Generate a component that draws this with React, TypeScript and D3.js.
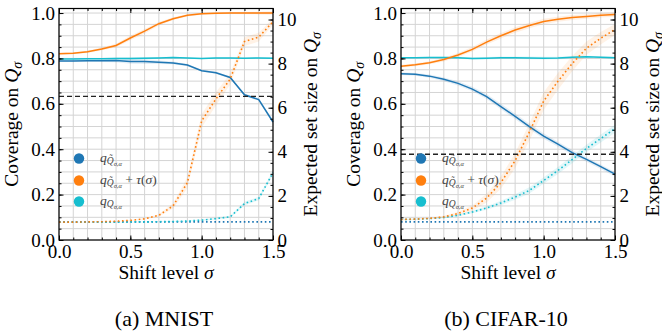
import React, { useRef, useEffect } from "react";
import * as d3 from "d3";

// shift levels on the x axis
const sigma = [0, 0.1, 0.2, 0.3, 0.4, 0.5, 0.6, 0.7, 0.8, 0.9, 1.0, 1.1, 1.2, 1.3, 1.4, 1.5];

const xTicks = [0, 0.5, 1.0, 1.5];
const leftTicks = [0, 0.2, 0.4, 0.6, 0.8, 1.0];
const rightTicks = [0, 2, 4, 6, 8, 10];

// MNIST: coverage (left axis)
const mnistCovBase = [0.789, 0.789, 0.79, 0.79, 0.791, 0.787, 0.786, 0.783, 0.78, 0.771, 0.746, 0.737, 0.716, 0.64, 0.619, 0.52];
const mnistCovTau = [0.821, 0.823, 0.829, 0.842, 0.857, 0.89, 0.92, 0.953, 0.975, 0.99, 0.997, 0.999, 1.0, 1.0, 1.0, 1.0];
const mnistCovQ = [0.798, 0.798, 0.799, 0.799, 0.8, 0.8, 0.801, 0.802, 0.804, 0.802, 0.8, 0.802, 0.802, 0.801, 0.802, 0.801];
const mnistCovStd = [0.004, 0.004, 0.005, 0.006, 0.008, 0.01, 0.01, 0.008, 0.006, 0.005, 0.004, 0.004, 0.004, 0.005, 0.006, 0.008];
// MNIST: expected set size (right axis)
const mnistSizeBase = [0.82, 0.82, 0.82, 0.82, 0.82, 0.82, 0.82, 0.82, 0.82, 0.82, 0.82, 0.82, 0.82, 0.82, 0.82, 0.82];
const mnistSizeTau = [0.81, 0.81, 0.82, 0.83, 0.85, 0.89, 0.96, 1.12, 1.55, 2.6, 5.4, 6.4, 7.3, 9.0, 9.2, 9.9];
const mnistSizeTauStd = [0.01, 0.01, 0.01, 0.01, 0.01, 0.02, 0.03, 0.05, 0.12, 0.25, 0.3, 0.3, 0.25, 0.2, 0.2, 0.15];
const mnistSizeQ = [0.81, 0.81, 0.81, 0.81, 0.81, 0.82, 0.82, 0.83, 0.84, 0.86, 0.9, 0.97, 1.05, 1.65, 1.88, 3.05];
const mnistSizeQStd = [0.01, 0.01, 0.01, 0.01, 0.01, 0.01, 0.01, 0.01, 0.02, 0.02, 0.03, 0.04, 0.05, 0.08, 0.08, 0.1];
const mnistTarget = 0.633;

// CIFAR-10
const cifarCovBase = [0.733, 0.73, 0.722, 0.708, 0.69, 0.665, 0.632, 0.588, 0.545, 0.5, 0.458, 0.422, 0.385, 0.355, 0.323, 0.29];
const cifarCovTau = [0.766, 0.772, 0.781, 0.795, 0.815, 0.84, 0.872, 0.9, 0.925, 0.945, 0.963, 0.973, 0.98, 0.985, 0.99, 0.994];
const cifarCovQ = [0.803, 0.803, 0.804, 0.804, 0.803, 0.8, 0.801, 0.803, 0.803, 0.802, 0.801, 0.802, 0.805, 0.807, 0.805, 0.803];
const cifarCovStd = [0.006, 0.006, 0.007, 0.008, 0.009, 0.01, 0.011, 0.012, 0.012, 0.012, 0.012, 0.011, 0.011, 0.01, 0.01, 0.01];
const cifarSizeBase = [0.82, 0.82, 0.82, 0.82, 0.82, 0.82, 0.82, 0.82, 0.82, 0.82, 0.82, 0.82, 0.82, 0.82, 0.82, 0.82];
const cifarSizeTau = [0.93, 0.95, 0.98, 1.05, 1.2, 1.45, 1.9, 2.6, 3.6, 4.9, 6.3, 7.2, 8.0, 8.7, 9.15, 9.55];
const cifarSizeTauStd = [0.02, 0.02, 0.03, 0.05, 0.08, 0.12, 0.2, 0.28, 0.35, 0.4, 0.4, 0.38, 0.35, 0.3, 0.28, 0.25];
const cifarSizeQ = [0.93, 0.94, 0.97, 1.02, 1.12, 1.27, 1.45, 1.68, 1.95, 2.25, 2.7, 3.15, 3.65, 4.15, 4.6, 5.05];
const cifarSizeQStd = [0.02, 0.02, 0.02, 0.03, 0.04, 0.06, 0.08, 0.1, 0.12, 0.14, 0.15, 0.16, 0.17, 0.17, 0.18, 0.18];
const cifarTarget = 0.378;

const BLUE = "#1f77b4";
const ORANGE = "#ff7f0e";
const CYAN = "#17becf";
const FONT = "Liberation Serif, DejaVu Serif, Times New Roman, serif";

interface PanelSpec {
  left: number;
  caption: string;
  covBase: number[];
  covTau: number[];
  covQ: number[];
  covStd: number[];
  sizeBase: number[];
  sizeTau: number[];
  sizeTauStd: number[];
  sizeQ: number[];
  sizeQStd: number[];
  target: number;
}

const panels: PanelSpec[] = [
  {
    left: 59, caption: "(a) MNIST",
    covBase: mnistCovBase, covTau: mnistCovTau, covQ: mnistCovQ, covStd: mnistCovStd,
    sizeBase: mnistSizeBase, sizeTau: mnistSizeTau, sizeTauStd: mnistSizeTauStd,
    sizeQ: mnistSizeQ, sizeQStd: mnistSizeQStd, target: mnistTarget,
  },
  {
    left: 401, caption: "(b) CIFAR-10",
    covBase: cifarCovBase, covTau: cifarCovTau, covQ: cifarCovQ, covStd: cifarCovStd,
    sizeBase: cifarSizeBase, sizeTau: cifarSizeTau, sizeTauStd: cifarSizeTauStd,
    sizeQ: cifarSizeQ, sizeQStd: cifarSizeQStd, target: cifarTarget,
  },
];

function drawPanel(svg: d3.Selection<SVGSVGElement, unknown, null, undefined>, p: PanelSpec) {
  const W = 214;
  const top = 8.5;
  const bottom = 240;
  const right = p.left + W;

  const x = d3.scaleLinear().domain([0, 1.5]).range([p.left, right]);
  const yL = d3.scaleLinear().domain([0, 1.02]).range([bottom, top]);
  const yR = d3.scaleLinear().domain([0, 10.5]).range([bottom, top]);

  const g = svg.append("g");

  // grid (every minor tick)
  const xMinor = d3.range(0, 16).map(i => i / 10);
  const yMinor = d3.range(0, 21).map(i => i * 0.05);
  g.append("g").selectAll("line").data(xMinor).join("line")
    .attr("x1", d => x(d)).attr("x2", d => x(d))
    .attr("y1", top).attr("y2", bottom)
    .attr("stroke", "#d4d4d4").attr("stroke-width", 1);
  g.append("g").selectAll("line").data(yMinor).join("line")
    .attr("x1", p.left).attr("x2", right)
    .attr("y1", d => yL(d)).attr("y2", d => yL(d))
    .attr("stroke", "#d4d4d4").attr("stroke-width", 1);

  // shaded bands
  const band = (vals: number[], std: number[], y: d3.ScaleLinear<number, number>, color: string, op: number) => {
    const area = d3.area<number>()
      .x((_, i) => x(sigma[i]))
      .y0((d, i) => y(d - std[i]))
      .y1((d, i) => y(d + std[i]));
    g.append("path").datum(vals)
      .attr("fill", color).attr("opacity", op).attr("d", area);
  };
  band(p.covBase, p.covStd, yL, BLUE, 0.12);
  band(p.covTau, p.covStd, yL, ORANGE, 0.12);
  band(p.covQ, p.covStd.map(s => s * 0.5), yL, CYAN, 0.12);
  band(p.sizeTau, p.sizeTauStd, yR, ORANGE, 0.1);
  band(p.sizeQ, p.sizeQStd, yR, CYAN, 0.12);

  const line = (vals: number[], y: d3.ScaleLinear<number, number>, color: string, dotted: boolean) => {
    const gen = d3.line<number>().x((_, i) => x(sigma[i])).y(d => y(d));
    g.append("path").datum(vals)
      .attr("fill", "none").attr("stroke", color)
      .attr("stroke-width", dotted ? 1.6 : 1.5)
      .attr("stroke-dasharray", dotted ? "1.6,2.6" : null)
      .attr("d", gen);
  };
  line(p.covQ, yL, CYAN, false);
  line(p.covBase, yL, BLUE, false);
  line(p.covTau, yL, ORANGE, false);
  line(p.sizeBase, yR, BLUE, true);
  line(p.sizeQ, yR, CYAN, true);
  line(p.sizeTau, yR, ORANGE, true);

  // target coverage
  g.append("line")
    .attr("x1", p.left).attr("x2", right)
    .attr("y1", yL(p.target)).attr("y2", yL(p.target))
    .attr("stroke", "#222").attr("stroke-width", 1.4)
    .attr("stroke-dasharray", "5,3");

  // legend
  const legendRows = [BLUE, ORANGE, CYAN];
  const legendY = [158.5, 180.5, 201.5];
  legendRows.forEach((color, i) => {
    g.append("circle")
      .attr("cx", p.left + 20).attr("cy", legendY[i]).attr("r", 5.2)
      .attr("fill", color);
    const t = g.append("text")
      .attr("x", p.left + 41).attr("y", legendY[i] + 3)
      .attr("fill", "#444").attr("font-family", FONT).attr("font-size", 13.5);
    t.append("tspan").attr("font-style", "italic").text("q");
    t.append("tspan").attr("dy", 2.5).attr("font-size", 9.5).attr("font-style", "italic")
      .text(i === 2 ? "Q" : "Q\u0303");
    t.append("tspan").attr("dy", 1.8).attr("font-size", 6.5).attr("font-style", "italic").text("σ,α");
    if (i === 1) {
      t.append("tspan").attr("dy", -4.3).text(" + ");
      t.append("tspan").attr("font-style", "italic").text("τ");
      t.append("tspan").text("(");
      t.append("tspan").attr("font-style", "italic").text("σ");
      t.append("tspan").text(")");
    }
  });

  // axes
  const styleAxis = (ax: d3.Selection<SVGGElement, unknown, null, undefined>) => {
    ax.select(".domain").remove();
    ax.attr("font-family", FONT).attr("font-size", 19);
    ax.selectAll("line").attr("stroke", "#000").attr("stroke-width", 1);
    ax.selectAll("text").attr("fill", "#000");
  };
  const fmt1 = d3.format(".1f");

  const bottomAx = g.append("g").attr("transform", `translate(0,${bottom})`)
    .call(d3.axisBottom(x).tickValues(xTicks).tickSize(-4.5).tickPadding(5).tickFormat(d => fmt1(+d)));
  styleAxis(bottomAx);
  const bottomMinor = g.append("g").attr("transform", `translate(0,${bottom})`)
    .call(d3.axisBottom(x).tickValues(xMinor).tickSize(-2.5).tickFormat(() => ""));
  styleAxis(bottomMinor);
  const topAx = g.append("g").attr("transform", `translate(0,${top})`)
    .call(d3.axisTop(x).tickValues(xTicks).tickSize(-4.5).tickFormat(() => ""));
  styleAxis(topAx);
  const topMinor = g.append("g").attr("transform", `translate(0,${top})`)
    .call(d3.axisTop(x).tickValues(xMinor).tickSize(-2.5).tickFormat(() => ""));
  styleAxis(topMinor);

  const leftAx = g.append("g").attr("transform", `translate(${p.left},0)`)
    .call(d3.axisLeft(yL).tickValues(leftTicks).tickSize(-4.5).tickPadding(4).tickFormat(d => fmt1(+d)));
  styleAxis(leftAx);
  const leftMinor = g.append("g").attr("transform", `translate(${p.left},0)`)
    .call(d3.axisLeft(yL).tickValues(yMinor).tickSize(-2.5).tickFormat(() => ""));
  styleAxis(leftMinor);

  const rightAx = g.append("g").attr("transform", `translate(${right},0)`)
    .call(d3.axisRight(yR).tickValues(rightTicks).tickSize(-4.5).tickPadding(4.5).tickFormat(d => `${d}`));
  styleAxis(rightAx);
  const rightMinor = g.append("g").attr("transform", `translate(${right},0)`)
    .call(d3.axisRight(yR).tickValues(d3.range(0, 21).map(i => i * 0.5)).tickSize(-2.5).tickFormat(() => ""));
  styleAxis(rightMinor);

  // frame
  g.append("rect")
    .attr("x", p.left).attr("y", top).attr("width", W).attr("height", bottom - top)
    .attr("fill", "none").attr("stroke", "#000").attr("stroke-width", 1.2);

  // axis labels
  const xl = g.append("text")
    .attr("x", p.left + W / 2).attr("y", 279).attr("text-anchor", "middle")
    .attr("font-family", FONT).attr("font-size", 19.5);
  xl.append("tspan").text("Shift level ");
  xl.append("tspan").attr("font-style", "italic").text("σ");

  const yLabel = (bx: number, main: string) => {
    const t = g.append("text")
      .attr("transform", `translate(${bx},${(top + bottom) / 2}) rotate(-90)`)
      .attr("text-anchor", "middle")
      .attr("font-family", FONT).attr("font-size", 19.5);
    t.append("tspan").text(main);
    t.append("tspan").attr("font-style", "italic").text("Q");
    t.append("tspan").attr("dy", 4).attr("font-size", 14).attr("font-style", "italic").text("σ");
  };
  yLabel(p.left - 41, "Coverage on ");
  yLabel(right + 44, "Expected set size on ");

  // caption
  g.append("text")
    .attr("x", p.left + W / 2 - 2).attr("y", 326).attr("text-anchor", "middle")
    .attr("font-family", FONT).attr("font-size", 22)
    .text(p.caption);
}

export default function App() {
  const svgRef = useRef<SVGSVGElement>(null);

  useEffect(() => {
    if (!svgRef.current) return;
    const svg = d3.select(svgRef.current);
    svg.selectAll("*").remove();
    panels.forEach(p => drawPanel(svg, p));
  }, []);

  return (
    <svg
      ref={svgRef}
      width={662}
      height={333}
      fontFamily={FONT}
      style={{ position: "absolute", left: 0, top: 0, background: "#fff" }}
    />
  );
}
